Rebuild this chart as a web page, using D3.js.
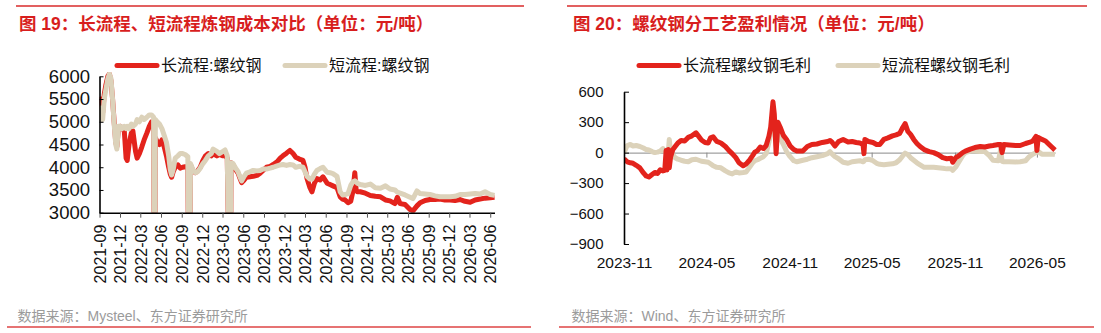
<!DOCTYPE html>
<html><head><meta charset="utf-8">
<script src="https://cdn.jsdelivr.net/npm/d3@7"></script>
<style>
html,body{margin:0;padding:0;background:#fff;}
svg{display:block;font-family:"Liberation Sans","Noto Sans CJK SC",sans-serif;}
</style></head>
<body>
<svg id="c" width="1101" height="333"></svg>
<script>
// ---------- Left chart data (元/吨) ----------
const leftDates = ["2021-09-01","2021-09-08","2021-09-15","2021-09-22","2021-09-29","2021-10-08","2021-10-15","2021-10-22","2021-10-29","2021-11-05","2021-11-12","2021-11-17","2021-11-24","2021-12-03","2021-12-10","2021-12-20","2021-12-28","2022-01-02","2022-01-10","2022-01-20","2022-01-27","2022-02-08","2022-02-15","2022-02-25","2022-03-08","2022-03-18","2022-03-30","2022-04-10","2022-04-20","2022-04-29","2022-05-04","2022-05-07","2022-05-15","2022-05-25","2022-06-05","2022-06-15","2022-06-25","2022-07-05","2022-07-12","2022-07-18","2022-07-25","2022-08-03","2022-08-15","2022-08-25","2022-09-05","2022-09-16","2022-09-28","2022-10-04","2022-10-10","2022-10-21","2022-11-01","2022-11-10","2022-11-22","2022-12-04","2022-12-15","2022-12-28","2023-01-10","2023-01-18","2023-02-04","2023-02-15","2023-03-03","2023-03-12","2023-03-22","2023-04-04","2023-04-08","2023-04-17","2023-04-28","2023-05-09","2023-05-18","2023-05-25","2023-06-05","2023-06-15","2023-07-01","2023-07-15","2023-08-01","2023-08-15","2023-08-28","2023-09-12","2023-09-28","2023-10-12","2023-10-29","2023-11-12","2023-11-24","2023-12-10","2023-12-25","2024-01-08","2024-01-20","2024-02-05","2024-02-21","2024-03-01","2024-03-10","2024-03-23","2024-04-01","2024-04-12","2024-04-23","2024-05-07","2024-05-20","2024-06-07","2024-06-20","2024-07-03","2024-07-21","2024-08-04","2024-08-15","2024-08-26","2024-09-08","2024-09-20","2024-09-30","2024-10-08","2024-10-14","2024-10-19","2024-11-01","2024-11-24","2024-12-16","2025-01-07","2025-01-30","2025-02-21","2025-03-13","2025-04-04","2025-04-15","2025-04-27","2025-05-19","2025-06-10","2025-06-23","2025-07-11","2025-07-25","2025-08-16","2025-09-07","2025-09-29","2025-10-21","2025-11-12","2025-12-05","2025-12-27","2026-01-18","2026-02-09","2026-03-04","2026-03-26","2026-04-17","2026-05-09","2026-06-01","2026-06-20"];
const longCost  = [5400,5500,5200,5600,5800,6000,6050,5900,5500,5000,4550,4450,4850,4900,4850,4800,4200,4150,4500,4750,4800,4350,4200,4300,4450,4600,4750,4900,5000,4950,0,4650,4550,4500,4600,4450,4250,4000,3850,3780,3900,4000,4050,3980,4000,4010,4000,0,4050,3920,3880,3920,4000,4150,4250,4300,4250,4300,4250,4280,4250,4260,4200,0,4100,4050,3950,3870,3750,3660,3720,3780,3790,3800,3820,3870,3930,4000,4020,4060,4120,4200,4250,4310,4370,4300,4220,4180,4150,4000,3750,3550,3460,3650,3750,3720,3790,3650,3620,3590,3550,3350,3300,3280,3220,3250,3480,3880,3500,3460,3460,3430,3380,3360,3350,3280,3260,3200,3340,3200,3180,3070,3040,3150,3220,3270,3290,3290,3300,3280,3280,3270,3290,3250,3230,3280,3300,3320,3330,3340];
const shortCost = [5000,5300,5050,5500,5700,5950,6050,5950,5500,4950,4500,4400,4900,4900,4850,4900,4850,4900,4850,4950,4900,4950,5050,5000,5100,5050,5100,5150,5150,5100,0,5050,5000,4950,4850,4700,4550,4250,3950,3830,3950,4200,4250,4300,4300,4280,4230,0,4080,3940,3880,3900,3980,4080,4150,4250,4300,4400,4350,4300,4350,4380,4250,0,4100,4080,3980,3900,3780,3700,3800,3870,3900,3930,3920,3930,3960,3960,3980,4000,4030,4050,4060,4040,4060,4050,4000,4020,4000,3900,3800,3740,3740,3850,3930,3970,4000,3890,3880,3860,3800,3460,3390,3400,3420,3600,3680,3700,3680,3650,3620,3600,3630,3550,3540,3590,3520,3500,3450,3430,3390,3340,3310,3480,3420,3410,3400,3370,3350,3350,3350,3360,3400,3400,3410,3420,3410,3460,3400,3380];
const leftTicks = ["2021-09","2021-12","2022-03","2022-06","2022-09","2022-12","2023-03","2023-06","2023-09","2023-12","2024-03","2024-06","2024-09","2024-12","2025-03","2025-06","2025-09","2025-12","2026-03","2026-06"];
const leftYTicks = [3000,3500,4000,4500,5000,5500,6000];
const leftSeriesNames = ["长流程:螺纹钢","短流程:螺纹钢"];

// ---------- Right chart data (元/吨) ----------
const rightDates = ["2023-11-01","2023-11-08","2023-11-15","2023-11-21","2023-11-28","2023-12-06","2023-12-14","2023-12-20","2023-12-26","2024-01-02","2024-01-08","2024-01-14","2024-01-20","2024-01-26","2024-01-30","2024-02-02","2024-02-04","2024-02-07","2024-02-09","2024-02-12","2024-02-17","2024-02-22","2024-02-28","2024-03-06","2024-03-14","2024-03-22","2024-03-30","2024-04-08","2024-04-14","2024-04-20","2024-04-28","2024-05-05","2024-05-10","2024-05-16","2024-05-24","2024-06-02","2024-06-12","2024-06-20","2024-06-27","2024-07-05","2024-07-12","2024-07-21","2024-07-28","2024-08-05","2024-08-11","2024-08-16","2024-08-22","2024-08-28","2024-09-04","2024-09-10","2024-09-16","2024-09-20","2024-09-25","2024-09-28","2024-10-02","2024-10-06","2024-10-11","2024-10-18","2024-10-25","2024-11-02","2024-11-10","2024-11-17","2024-11-30","2024-12-10","2024-12-20","2024-12-31","2025-01-12","2025-01-24","2025-01-29","2025-02-03","2025-02-09","2025-02-17","2025-02-27","2025-03-10","2025-03-19","2025-03-28","2025-04-05","2025-04-12","2025-04-14","2025-04-16","2025-04-24","2025-05-04","2025-05-12","2025-05-19","2025-05-28","2025-06-06","2025-06-16","2025-06-24","2025-07-02","2025-07-09","2025-07-14","2025-07-20","2025-07-26","2025-08-02","2025-08-09","2025-08-16","2025-08-25","2025-09-05","2025-09-15","2025-09-25","2025-10-05","2025-10-14","2025-10-24","2025-10-27","2025-11-03","2025-11-10","2025-11-18","2025-11-24","2025-12-05","2025-12-15","2025-12-27","2026-01-06","2026-01-16","2026-01-24","2026-02-05","2026-02-10","2026-02-13","2026-02-17","2026-03-01","2026-03-15","2026-03-25","2026-04-06","2026-04-14","2026-04-22","2026-04-29","2026-05-01","2026-05-04","2026-05-12","2026-05-20","2026-05-28","2026-06-04","2026-06-10"];
const longMargin  = [-60,-90,-100,-105,-125,-150,-200,-230,-240,-215,-195,-205,-170,-180,-175,20,-170,30,-150,-40,30,60,95,120,115,150,165,195,160,125,100,95,145,155,110,95,60,20,-10,-50,-100,-130,-110,-70,-30,5,20,55,40,70,160,250,500,380,-10,300,250,170,130,65,30,15,15,60,80,85,100,110,120,100,65,110,130,105,110,100,95,80,-10,130,110,100,80,80,130,145,165,175,190,250,285,210,180,130,90,60,30,10,0,-20,-50,-60,-55,-95,-50,-30,0,15,35,50,60,55,65,70,80,80,0,80,75,70,70,90,100,115,160,20,150,130,115,80,50,25];
const shortMargin = [0,70,80,65,70,60,45,30,25,10,0,5,15,40,10,10,5,10,130,0,-20,-50,-65,-75,-85,-90,-70,-65,-75,-85,-90,-95,-110,-130,-145,-150,-180,-200,-210,-190,-200,-195,-190,-140,-100,-80,-70,-55,-40,-10,100,200,290,250,210,190,140,80,10,-40,-80,-90,-75,-65,-50,-40,-30,-10,10,-15,-40,-60,-95,-105,-90,-85,-80,-90,-85,-70,-65,-80,-105,-115,-120,-115,-110,-100,-70,-30,-5,-20,-50,-75,-100,-120,-145,-145,-145,-150,-155,-160,-160,-175,-140,-90,-30,0,15,15,10,10,-30,-75,-80,30,-85,-90,-90,-92,-90,-80,-40,-15,0,15,10,-15,-15,-15,-15,-20];
const rightTicks = ["2023-11","2024-05","2024-11","2025-05","2025-11","2026-05"];
const rightYTicks = [-900,-600,-300,0,300,600];
const rightSeriesNames = ["长流程螺纹钢毛利","短流程螺纹钢毛利"];

const titles = ["图 19：长流程、短流程炼钢成本对比（单位：元/吨）","图 20：螺纹钢分工艺盈利情况（单位：元/吨）"];
const sources = ["数据来源：Mysteel、东方证券研究所","数据来源：Wind、东方证券研究所"];

// ---------- styling ----------
const RED = "#E3231C", BEIGE = "#DCD2BA", TITLE = "#D81E1E";
const parseD = d3.timeParse("%Y-%m-%d"), parseM = d3.timeParse("%Y-%m");
const svg = d3.select("#c");

// Frame: titles, rules, sources
[[16,524,7,531,19],[567,1087,559,1094,573]].forEach((f,i)=>{
  svg.append("line").attr("x1",f[0]).attr("x2",f[1]).attr("y1",6).attr("y2",6)
    .attr("stroke","#D92B2B").attr("stroke-width",1.3);
  svg.append("line").attr("x1",f[2]).attr("x2",f[3]).attr("y1",327).attr("y2",327)
    .attr("stroke","#DE4444").attr("stroke-width",1.5);
  svg.append("text").attr("x",f[4]).attr("y",29.5).text(titles[i])
    .attr("fill",TITLE).attr("font-size","17.5px").attr("font-weight","bold");
  svg.append("text").attr("x",f[4]-1.5).attr("y",321).text(sources[i])
    .attr("fill","#9b9b9b").attr("font-size","14px");
});

function legend(x0, name, color){
  svg.append("line").attr("x1",x0).attr("x2",x0+40).attr("y1",65.5).attr("y2",65.5)
    .attr("stroke",color).attr("stroke-width",5).attr("stroke-linecap","round");
  svg.append("text").attr("x",x0+44).attr("y",71).text(name)
    .attr("font-size","16px").attr("fill","#111");
}

// ---------- Left chart ----------
{
  const x = d3.scaleTime().domain([parseD("2021-09-01"), parseD("2026-06-20")]).range([99.5, 494.5]);
  const y = d3.scaleLinear().domain([3000,6000]).range([212.7, 76.3]);
  svg.append("clipPath").attr("id","clipL").append("rect")
    .attr("x",99.5).attr("y",72).attr("width",400).attr("height",212.7-72);
  const g = svg.append("g").attr("clip-path","url(#clipL)");
  const dates = leftDates.map(parseD);
  [[longCost,RED],[shortCost,BEIGE]].forEach(([vals,col])=>{
    g.append("path").datum(vals.map((v,i)=>[dates[i],v]))
      .attr("d", d3.line().x(d=>x(d[0])).y(d=>y(d[1])))
      .attr("fill","none").attr("stroke",col).attr("stroke-width",5).attr("stroke-linejoin","round");
  });
  const xa = svg.append("g").attr("transform","translate(0,212.7)")
    .call(d3.axisBottom(x).tickValues(leftTicks.map(parseM)).tickFormat(d3.timeFormat("%Y-%m")).tickSizeInner(5).tickSizeOuter(0));
  xa.select(".domain").attr("stroke","#000").attr("stroke-width",1.6);
  xa.selectAll(".tick line").attr("stroke","#555");
  xa.selectAll("text").attr("transform","rotate(-90)").attr("text-anchor","end")
    .attr("x",-12).attr("y",0).attr("dy","0.36em").attr("font-size","16px").attr("fill","#111").attr("font-family",null);
  const ya = svg.append("g").attr("transform","translate(99.5,0)")
    .call(d3.axisLeft(y).tickValues(leftYTicks).tickFormat(d3.format("d")).tickSizeInner(-4).tickSizeOuter(0).tickPadding(9.5));
  ya.select(".domain").attr("stroke","#000").attr("stroke-width",1.6);
  ya.selectAll(".tick line").attr("stroke","#000");
  ya.selectAll("text").attr("font-size","18.5px").attr("fill","#111").attr("font-family",null);
  legend(117, leftSeriesNames[0], RED);
  legend(285, leftSeriesNames[1], BEIGE);
}

// ---------- Right chart ----------
{
  const x = d3.scaleTime().domain([parseD("2023-11-01"), parseD("2026-06-10")]).range([624, 1055]);
  const y = d3.scaleLinear().domain([-900,600]).range([244, 91.7]);
  const za = svg.append("g").attr("transform",`translate(0,${y(0)})`)
    .call(d3.axisBottom(x).tickValues(rightTicks.map(parseM)).tickFormat(d3.timeFormat("%Y-%m")).tickSizeInner(5).tickSizeOuter(0));
  za.select(".domain").attr("stroke","#8a8a8a").attr("stroke-width",1);
  za.selectAll(".tick line").attr("stroke","#8a8a8a");
  za.selectAll("text").attr("y",268.3-y(0)).attr("dy",0).attr("font-size","15.5px").attr("fill","#111").attr("font-family",null);
  svg.append("clipPath").attr("id","clipR").append("rect")
    .attr("x",624).attr("y",88).attr("width",440).attr("height",160);
  const g = svg.append("g").attr("clip-path","url(#clipR)");
  const dates = rightDates.map(parseD);
  [[shortMargin,BEIGE],[longMargin,RED]].forEach(([vals,col])=>{
    g.append("path").datum(vals.map((v,i)=>[dates[i],v]))
      .attr("d", d3.line().x(d=>x(d[0])).y(d=>y(d[1])))
      .attr("fill","none").attr("stroke",col).attr("stroke-width",5).attr("stroke-linejoin","round");
  });
  const ya = svg.append("g").attr("transform","translate(624,0)")
    .call(d3.axisLeft(y).tickValues(rightYTicks).tickFormat(d3.format("d")).tickSizeInner(-5).tickSizeOuter(0).tickPadding(20.5));
  ya.select(".domain").attr("stroke","#000").attr("stroke-width",1.6);
  ya.selectAll(".tick line").attr("stroke","#000");
  ya.selectAll("text").attr("font-size","15px").attr("fill","#111").attr("font-family",null);
  legend(639, rightSeriesNames[0], RED);
  legend(838, rightSeriesNames[1], BEIGE);
}
</script>
</body></html>
